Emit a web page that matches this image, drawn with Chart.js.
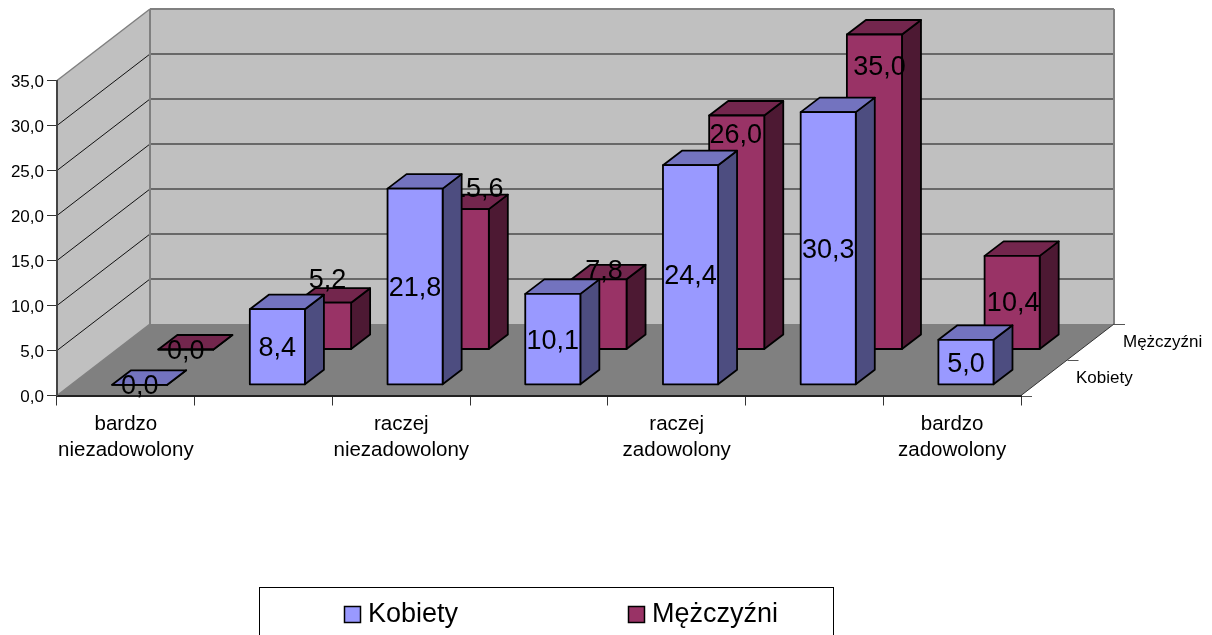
<!DOCTYPE html>
<html>
<head>
<meta charset="utf-8">
<title>Zadowolenie</title>
<script src="https://cdn.jsdelivr.net/npm/chart.js@4"></script>
<style>
    html, body { margin: 0; padding: 0; background: #fff; overflow: hidden; }
    canvas { display: block; }
</style>
</head>
<body>
<canvas id="chart" width="1212" height="635"></canvas>
<script>
const categories = [
    ["bardzo", "niezadowolony"], "",
    ["raczej", "niezadowolony"], "",
    ["raczej", "zadowolony"], "",
    ["bardzo", "zadowolony"]
];
const kobiety = [0.0, 8.4, 21.8, 10.1, 24.4, 30.3, 5.0];
const mezczyzni = [0.0, 5.2, 15.6, 7.8, 26.0, 35.0, 10.4];

// hand-placed labels of the back row, px away from the middle of the bar
const mezczyzniLabelDx = [0, 4, 16, 5, -1, 5, 1];
const mezczyzniLabelDy = [0, -47, -92, -45, -99, -126, -1];

const FONT = '"Liberation Sans", Arial, sans-serif';
const WALL_DX = 93, WALL_DY = -71.5;   // how far the back wall sits from the front plane
const BOX_DX = 19, BOX_DY = -14.5;     // depth of one box

const fmt = v => v.toFixed(1).replace(".", ",");

// a bar with a top and a side face, pushed back along the floor
class Box3D extends Chart.BarElement {
    static id = "box3d";
    draw(ctx) {
        const { x, y, base, width } = this.getProps(["x", "y", "base", "width"], true);
        const ds = this.series;
        const l = x - width / 2 + ds.shiftX, r = l + width;
        const t = y + ds.shiftY, b = base + ds.shiftY;

        const face = (pts, fill) => {
            ctx.beginPath();
            pts.forEach((p, i) => i ? ctx.lineTo(p[0], p[1]) : ctx.moveTo(p[0], p[1]));
            ctx.closePath();
            ctx.fillStyle = fill;
            ctx.fill();
            ctx.stroke();
        };
        ctx.save();
        ctx.strokeStyle = "#000";
        ctx.lineWidth = 1.8;
        ctx.lineJoin = "round";
        face([[r, t], [r + BOX_DX, t + BOX_DY], [r + BOX_DX, b + BOX_DY], [r, b]], ds.sideColor);
        face([[l, t], [l + BOX_DX, t + BOX_DY], [r + BOX_DX, t + BOX_DY], [r, t]], ds.topColor);
        face([[l, t], [r, t], [r, b], [l, b]], ds.backgroundColor);
        ctx.restore();
    }
}

class Bar3DController extends Chart.BarController {
    static id = "bar3d";
    static defaults = { dataElementType: "box3d" };
    updateElements(bars, start, count, mode) {
        super.updateElements(bars, start, count, mode);
        bars.forEach(b => { b.series = this.getDataset(); });
    }
}

Chart.register(Box3D, Bar3DController);

function line(ctx, x1, y1, x2, y2, color, w) {
    ctx.beginPath();
    ctx.moveTo(x1, y1);
    ctx.lineTo(x2, y2);
    ctx.strokeStyle = color;
    ctx.lineWidth = w;
    ctx.stroke();
}

function poly(ctx, pts, fill) {
    ctx.beginPath();
    pts.forEach((p, i) => i ? ctx.lineTo(p[0], p[1]) : ctx.moveTo(p[0], p[1]));
    ctx.closePath();
    ctx.fillStyle = fill;
    ctx.fill();
}

// walls and floor, gridlines come from the y scale ticks
const room = {
    id: "room",
    beforeDraw(chart) {
        const ctx = chart.ctx, { left, right, top, bottom } = chart.chartArea;
        const yScale = chart.scales.y;
        const bl = left + WALL_DX, br = right + WALL_DX;
        ctx.save();
        ctx.fillStyle = "#fff";
        ctx.fillRect(0, 0, chart.width, chart.height);

        poly(ctx, [[left, top], [bl, top + WALL_DY], [bl, bottom + WALL_DY], [left, bottom]], "#C0C0C0");
        poly(ctx, [[bl, top + WALL_DY], [br, top + WALL_DY], [br, bottom + WALL_DY], [bl, bottom + WALL_DY]], "#C0C0C0");
        poly(ctx, [[left, bottom], [bl, bottom + WALL_DY], [br, bottom + WALL_DY], [right, bottom]], "#808080");

        yScale.ticks.forEach((t, i) => {
            if (t.value === 0 || t.value === yScale.max) return;
            const y = yScale.getPixelForTick(i);
            line(ctx, left, y, bl, y + WALL_DY, "#111", 1);
            line(ctx, bl, y + WALL_DY, br, y + WALL_DY, "#111", 1.2);
        });

        // wall outline
        line(ctx, left, top, bl, top + WALL_DY, "#808080", 1.5);
        line(ctx, bl, top + WALL_DY, br, top + WALL_DY, "#808080", 2);
        line(ctx, bl, top + WALL_DY, bl, bottom + WALL_DY, "#808080", 2);
        line(ctx, br, top + WALL_DY, br, bottom + WALL_DY, "#808080", 2);
        line(ctx, left, bottom, bl, bottom + WALL_DY, "#808080", 1.5);

        // depth axis on the right side of the floor
        line(ctx, right, bottom, br, bottom + WALL_DY, "#333", 1);
        [0, 0.5, 1].forEach(f => {
            const x = right + WALL_DX * f, y = Math.round(bottom + WALL_DY * f) + 0.5;
            line(ctx, x, y, x + 11, y, "#555", 1);
        });
        ctx.fillStyle = "#000";
        ctx.font = "17px " + FONT;
        ctx.textAlign = "left";
        ctx.textBaseline = "middle";
        chart.data.datasets.forEach((ds, i) => {
            ctx.fillText(ds.label, right + 55 + i * 47, bottom - 17 - i * 36);
        });
        ctx.restore();
    }
};

// value labels go with their own series, so the front row can cover the back one
const valueLabels = {
    id: "valueLabels",
    afterDatasetDraw(chart, args) {
        const ctx = chart.ctx, ds = chart.data.datasets[args.index];
        ctx.save();
        ctx.fillStyle = "#000";
        ctx.font = "27px " + FONT;
        ctx.textAlign = "center";
        ctx.textBaseline = "middle";
        args.meta.data.forEach((bar, i) => {
            const x = bar.x + ds.shiftX + (ds.labelDx ? ds.labelDx[i] : 0);
            const y = (bar.y + bar.base) / 2 + ds.shiftY + (ds.labelDy ? ds.labelDy[i] : 0);
            ctx.fillText(fmt(ds.data[i]), x, y + 2);
        });
        ctx.restore();
    }
};

// legend frame runs off the bottom of the canvas
const boxLegend = {
    id: "boxLegend",
    afterDraw(chart) {
        const ctx = chart.ctx;
        const itemX = [344, 628];
        ctx.save();
        ctx.strokeStyle = "#000";
        ctx.lineWidth = 1;
        ctx.strokeRect(259.5, 587.5, 574, 60);
        ctx.font = "27px " + FONT;
        ctx.textAlign = "left";
        ctx.textBaseline = "middle";
        chart.data.datasets.forEach((ds, i) => {
            ctx.fillStyle = ds.backgroundColor;
            ctx.fillRect(itemX[i] + 0.5, 606.5, 16, 16);
            ctx.lineWidth = 1.5;
            ctx.strokeRect(itemX[i] + 0.5, 606.5, 16, 16);
            ctx.fillStyle = "#000";
            ctx.fillText(ds.label, itemX[i] + 24, 615);
        });
        ctx.restore();
    }
};

new Chart(document.getElementById("chart"), {
    type: "bar3d",
    data: {
        labels: categories,
        datasets: [
            {
                label: "Kobiety",
                data: kobiety,
                backgroundColor: "#9999FF",
                topColor: "#7373BF",
                sideColor: "#4D4D80",
                shiftX: 13.8,
                shiftY: -10.7,
                clip: false
            },
            {
                label: "Mężczyźni",
                data: mezczyzni,
                backgroundColor: "#993366",
                topColor: "#73264D",
                sideColor: "#4D1933",
                shiftX: 60,
                shiftY: -46,
                labelDx: mezczyzniLabelDx,
                labelDy: mezczyzniLabelDy,
                clip: false
            }
        ]
    },
    options: {
        responsive: false,
        animation: false,
        events: [],
        layout: { padding: { left: 0, top: 80.5, right: 191, bottom: 0 } },
        datasets: { bar3d: { grouped: false, barPercentage: 0.4, categoryPercentage: 1 } },
        plugins: { legend: { display: false }, tooltip: { enabled: false } },
        scales: {
            x: {
                afterFit: s => { s.height = 239.5; },
                grid: { drawOnChartArea: false, drawTicks: true, tickLength: 10, color: "#333", lineWidth: 1 },
                border: { color: "#222", width: 2 },
                ticks: {
                    autoSkip: false,
                    maxRotation: 0,
                    padding: 6,
                    color: "#000",
                    font: { family: FONT, size: 20.5, lineHeight: 1.27 }
                }
            },
            y: {
                min: 0,
                max: 35,
                afterFit: s => { s.width = 57; },
                grid: { drawOnChartArea: false, drawTicks: true, tickLength: 10, color: "#333", lineWidth: 1 },
                border: { color: "#444", width: 2 },
                ticks: {
                    stepSize: 5,
                    padding: 3,
                    labelOffset: 1.5,
                    color: "#000",
                    font: { family: FONT, size: 17 },
                    callback: v => fmt(v)
                }
            }
        }
    },
    plugins: [room, valueLabels, boxLegend]
});
</script>
</body>
</html>
